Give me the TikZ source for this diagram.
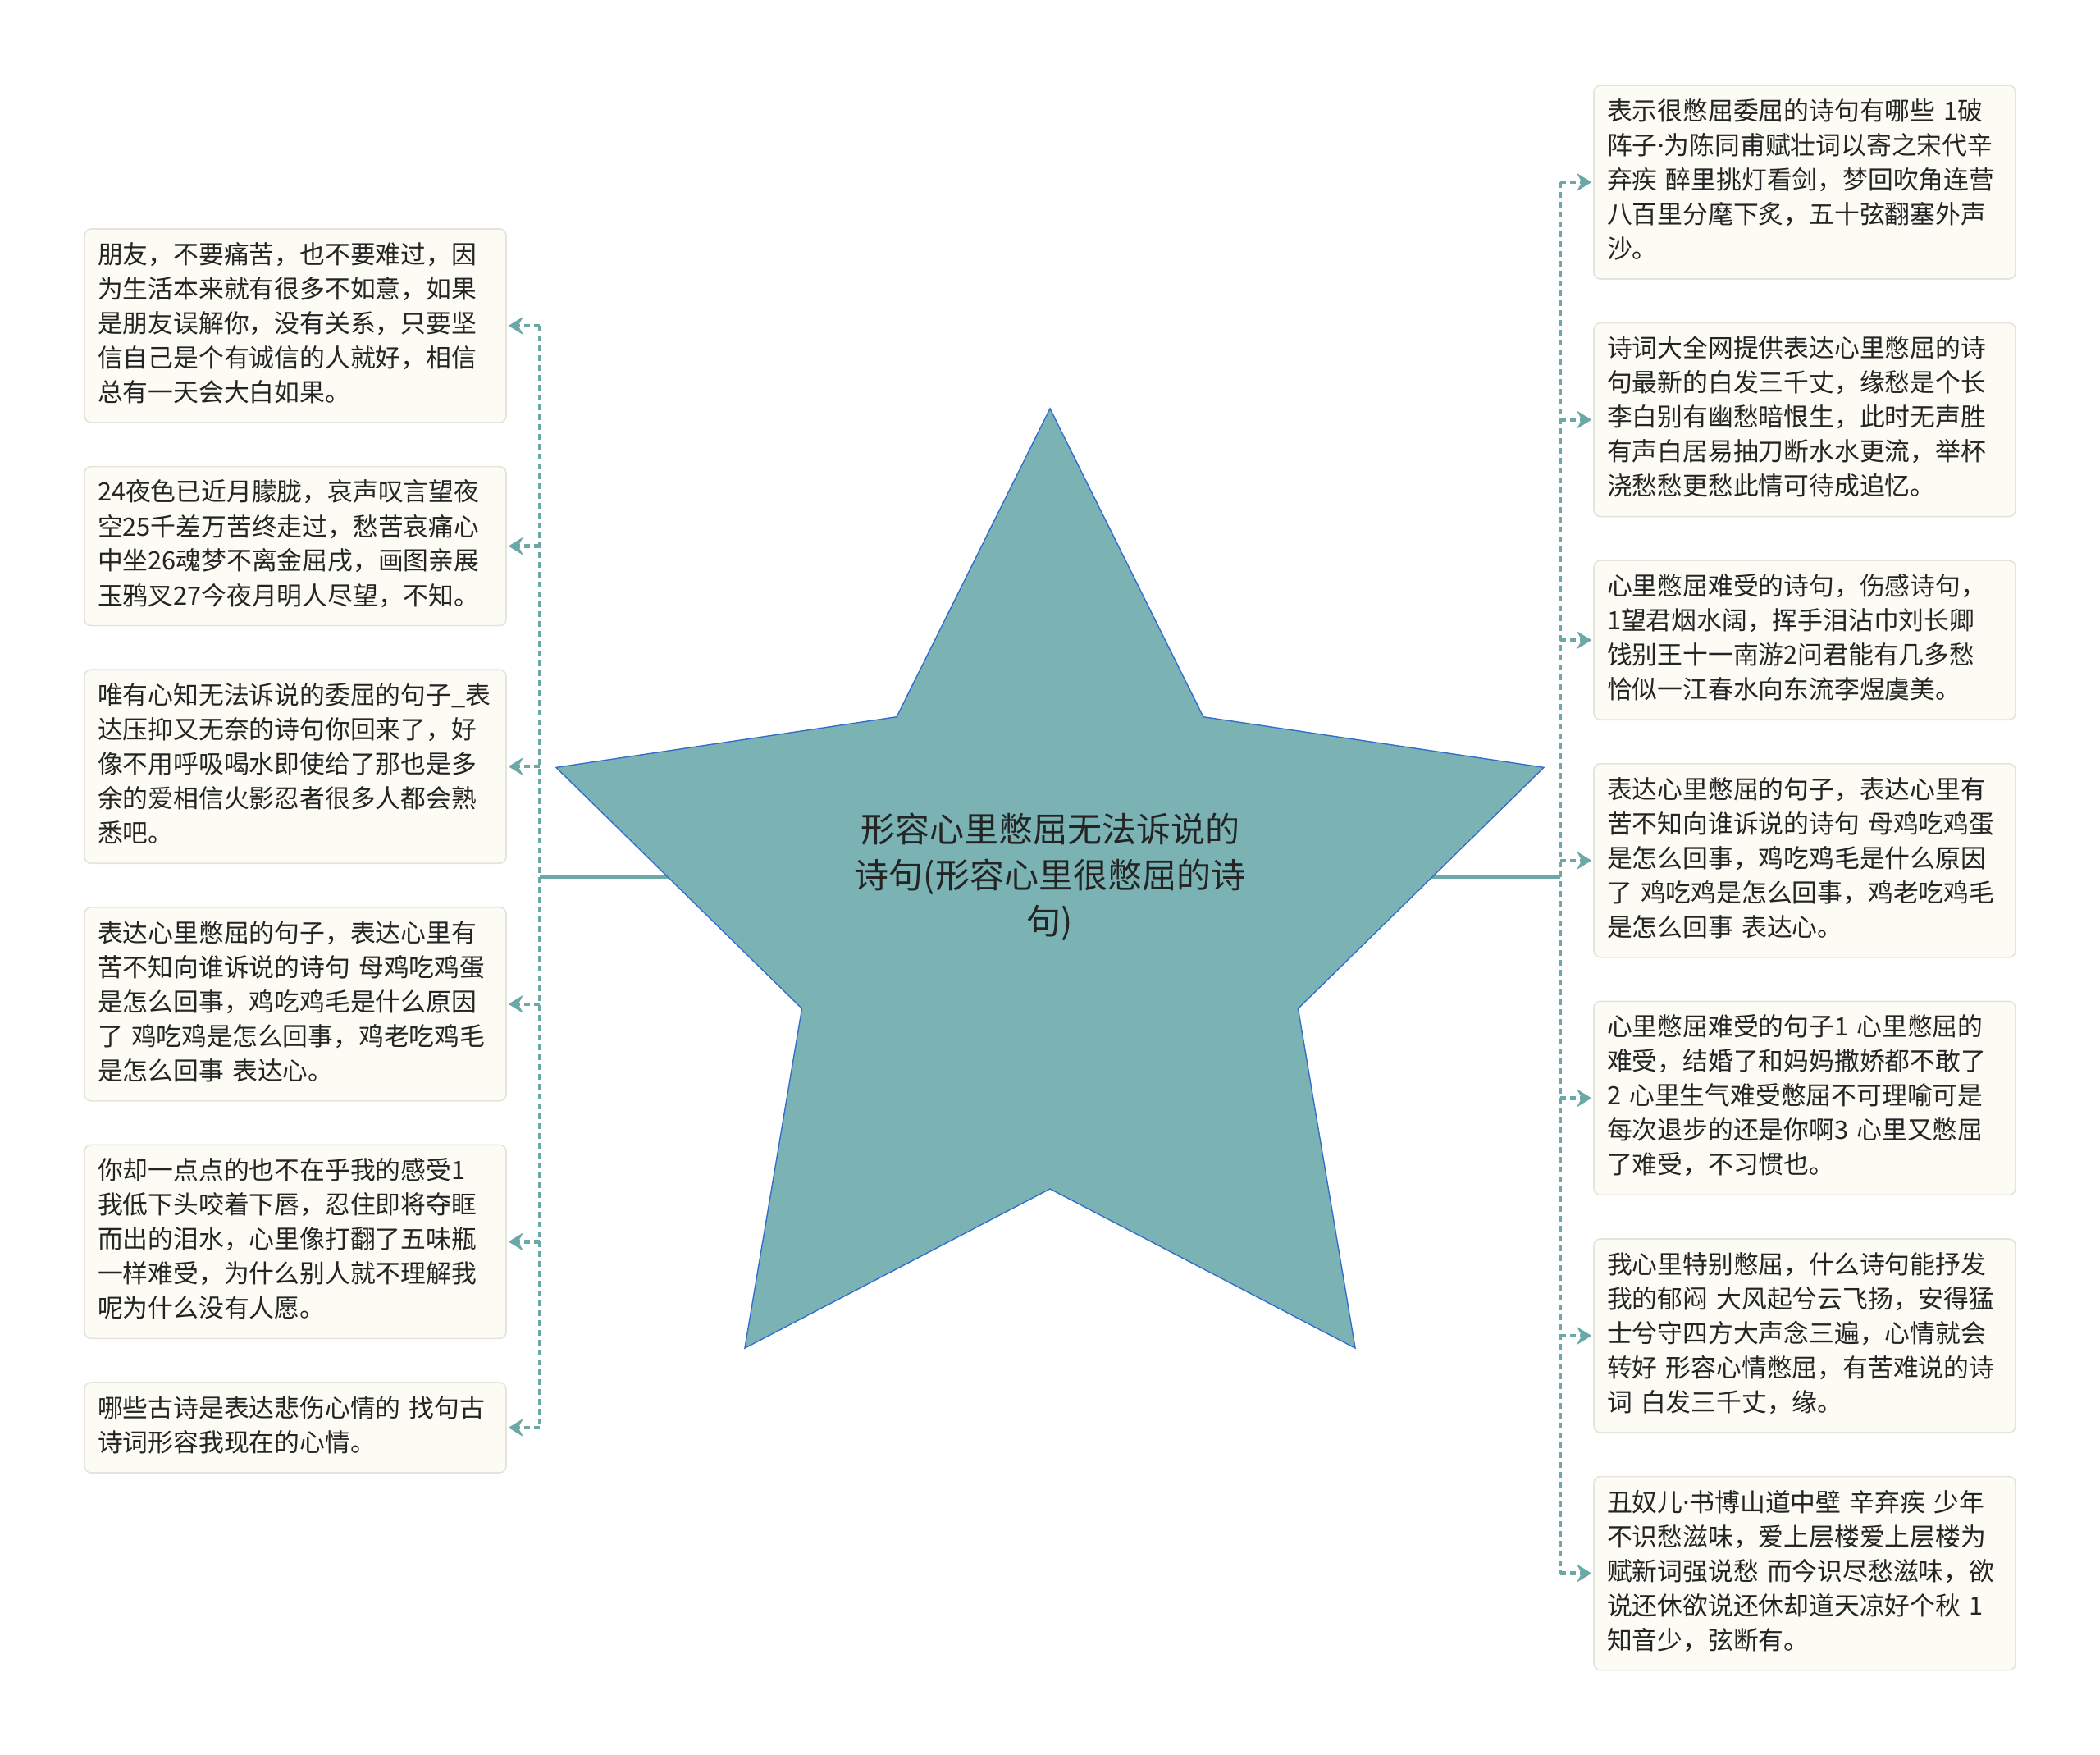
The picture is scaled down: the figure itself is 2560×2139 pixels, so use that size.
\documentclass[tikz,border=0pt]{standalone}
\usepackage{fontspec}
\newfontfamily\cjk{Noto Sans CJK SC}
\newfontfamily\latin{Noto Sans}
\usetikzlibrary{
  positioning,
  calc,
  arrows.meta}
\setlength{\parindent}{0pt}

\definecolor{leaffill}{RGB}{252,251,244}
\definecolor{leafdraw}{RGB}{228,228,220}
\definecolor{inkcolor}{RGB}{36,36,36}
\definecolor{starfill}{RGB}{123,179,181}
\definecolor{stardraw}{RGB}{52,110,205}
\definecolor{linkcolor}{RGB}{108,168,168}

%% narrow middle dot
\newcommand{\middot}{{\latin ·}}

\tikzset{
  %% leaf : a text box on either side
  leaf/.style={
    rectangle,
    rounded corners=4pt,
    fill=leaffill,
    draw=leafdraw,
    line width=0.8pt,
    text=inkcolor,
    font=\cjk\fontsize{15.4pt}{21pt}\selectfont,
    text width=241pt,
    inner xsep=8pt,
    inner ysep=6.5pt,
    align=left,
    execute at begin node=\strut,
    execute at end node=\strut
  },
  %% title : the text on the star
  title/.style={
    text=inkcolor,
    font=\cjk\fontsize{21pt}{28pt}\selectfont,
    align=center
  },
  %% starshape : the big star in the middle
  starshape/.style={
    fill=starfill,
    draw=stardraw,
    line width=0.7pt,
    line join=miter
  },
  %% trunk : solid line from the star to a bus
  trunk/.style={linkcolor, line width=2.2pt},
  %% bus : dashed vertical line on each side
  bus/.style={linkcolor, line width=2.2pt, dash pattern=on 3.5pt off 2.5pt},
  %% link : dashed arrow from a bus to a box
  link/.style={
    linkcolor,
    line width=2.2pt,
    dash pattern=on 3.5pt off 2.5pt,
    shorten >=1pt,
    -{Stealth[length=9pt, width=11pt, inset=3pt]}
  }
}

\begin{document}
\begin{tikzpicture}
  [x=0.5pt,
  y=-0.5pt,
  node distance=26pt]

  \useasboundingbox (0,0) rectangle (2560,2139);

  %% branch points
  \coordinate (hub) at (1280,1069);
  \coordinate (lbus) at (658,1069);
  \coordinate (rbus) at (1902,1069);

  %% trunks, behind the star
  \draw [trunk] (hub) -- (lbus);
  \draw [trunk] (hub) -- (rbus);

  %% star
  \filldraw [starshape, shift={(1280,1131)}]
    (270:633) \foreach \k in {0,...,4}{
      -- (306+72*\k:318) -- (342+72*\k:633)} -- cycle;

  \node (root) [title] at (hub) {%
    形容心里憋屈无法诉说的\\
    诗句(形容心里很憋屈的诗\\
    句)};


  %% left boxes
  \node (l1) [leaf] at (360,397) {%
    朋友，不要痛苦，也不要难过，因\\
    为生活本来就有很多不如意，如果\\
    是朋友误解你，没有关系，只要坚\\
    信自己是个有诚信的人就好，相信\\
    总有一天会大白如果。};

  \node (l2) [leaf, below=of l1] {%
    24夜色已近月朦胧，哀声叹言望夜\\
    空25千差万苦终走过，愁苦哀痛心\\
    中坐26魂梦不离金屈戌，画图亲展\\
    玉鸦叉27今夜月明人尽望，不知。};

  \node (l3) [leaf, below=of l2] {%
    唯有心知无法诉说的委屈的句子\_表\\
    达压抑又无奈的诗句你回来了，好\\
    像不用呼吸喝水即使给了那也是多\\
    余的爱相信火影忍者很多人都会熟\\
    悉吧。};

  \node (l4) [leaf, below=of l3] {%
    表达心里憋屈的句子，表达心里有\\
    苦不知向谁诉说的诗句 母鸡吃鸡蛋\\
    是怎么回事，鸡吃鸡毛是什么原因\\
    了 鸡吃鸡是怎么回事，鸡老吃鸡毛\\
    是怎么回事 表达心。};

  \node (l5) [leaf, below=of l4] {%
    你却一点点的也不在乎我的感受1\\
    我低下头咬着下唇，忍住即将夺眶\\
    而出的泪水，心里像打翻了五味瓶\\
    一样难受，为什么别人就不理解我\\
    呢为什么没有人愿。};

  \node (l6) [leaf, below=of l5] {%
    哪些古诗是表达悲伤心情的 找句古\\
    诗词形容我现在的心情。};


  %% right boxes
  \node (r1) [leaf] at (2200,222) {%
    表示很憋屈委屈的诗句有哪些 1破\\
    阵子\middot 为陈同甫赋壮词以寄之宋代辛\\
    弃疾 醉里挑灯看剑，梦回吹角连营\\
    八百里分麾下炙，五十弦翻塞外声\\
    沙。};

  \node (r2) [leaf, below=of r1] {%
    诗词大全网提供表达心里憋屈的诗\\
    句最新的白发三千丈，缘愁是个长\\
    李白别有幽愁暗恨生，此时无声胜\\
    有声白居易抽刀断水水更流，举杯\\
    浇愁愁更愁此情可待成追忆。};

  \node (r3) [leaf, below=of r2] {%
    心里憋屈难受的诗句，伤感诗句，\\
    1望君烟水阔，挥手泪沾巾刘长卿\\
    饯别王十一南游2问君能有几多愁\\
    恰似一江春水向东流李煜虞美。};

  \node (r4) [leaf, below=of r3] {%
    表达心里憋屈的句子，表达心里有\\
    苦不知向谁诉说的诗句 母鸡吃鸡蛋\\
    是怎么回事，鸡吃鸡毛是什么原因\\
    了 鸡吃鸡是怎么回事，鸡老吃鸡毛\\
    是怎么回事 表达心。};

  \node (r5) [leaf, below=of r4] {%
    心里憋屈难受的句子1 心里憋屈的\\
    难受，结婚了和妈妈撒娇都不敢了\\
    2 心里生气难受憋屈不可理喻可是\\
    每次退步的还是你啊3 心里又憋屈\\
    了难受，不习惯也。};

  \node (r6) [leaf, below=of r5] {%
    我心里特别憋屈，什么诗句能抒发\\
    我的郁闷 大风起兮云飞扬，安得猛\\
    士兮守四方大声念三遍，心情就会\\
    转好 形容心情憋屈，有苦难说的诗\\
    词 白发三千丈，缘。};

  \node (r7) [leaf, below=of r6] {%
    丑奴儿\middot 书博山道中壁 辛弃疾 少年\\
    不识愁滋味，爱上层楼爱上层楼为\\
    赋新词强说愁 而今识尽愁滋味，欲\\
    说还休欲说还休却道天凉好个秋 1\\
    知音少，弦断有。};


  %% Connections
  \draw [bus] (lbus |- l1.east) -- (lbus |- l6.east);
  \foreach \i in {1,...,6}
    \draw [link] (lbus |- l\i.east) -- (l\i.east);

  \draw [bus] (rbus |- r1.west) -- (rbus |- r7.west);
  \foreach \i in {1,...,7}
    \draw [link] (rbus |- r\i.west) -- (r\i.west);

\end{tikzpicture}
\end{document}
